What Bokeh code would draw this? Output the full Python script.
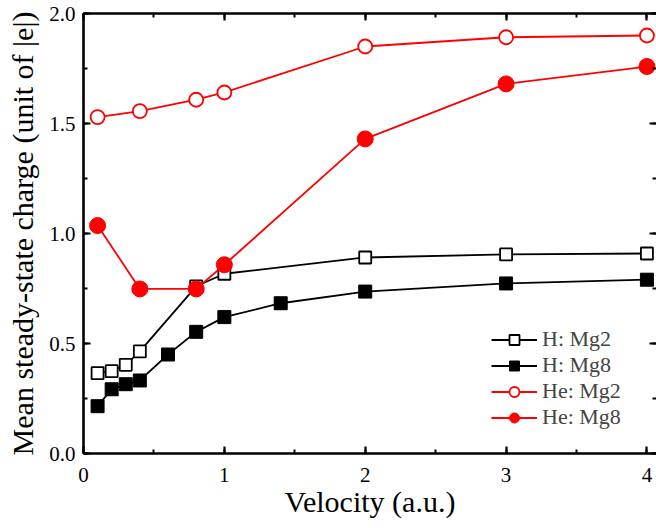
from bokeh.plotting import figure
from bokeh.models import (Range1d, LinearAxis, SingleIntervalTicker,
                          Legend, LegendItem, CustomJSTickFormatter)
from bokeh.embed import file_html
from bokeh.resources import INLINE

# Mean steady-state charge vs projectile velocity
v_h_mg2 = [0.1, 0.2, 0.3, 0.4, 0.8, 1.0, 2.0, 3.0, 4.0]
q_h_mg2 = [0.365, 0.374, 0.403, 0.464, 0.760, 0.817, 0.891, 0.905, 0.909]

v_h_mg8 = [0.1, 0.2, 0.3, 0.4, 0.6, 0.8, 1.0, 1.4, 2.0, 3.0, 4.0]
q_h_mg8 = [0.215, 0.292, 0.315, 0.332, 0.450, 0.553, 0.620, 0.683, 0.736, 0.773, 0.790]

v_he_mg2 = [0.1, 0.4, 0.8, 1.0, 2.0, 3.0, 4.0]
q_he_mg2 = [1.529, 1.556, 1.608, 1.641, 1.850, 1.892, 1.900]

v_he_mg8 = [0.1, 0.4, 0.8, 1.0, 2.0, 3.0, 4.0]
q_he_mg8 = [1.036, 0.748, 0.748, 0.858, 1.430, 1.680, 1.759]

series_labels = ["H: Mg2", "H: Mg8", "He: Mg2", "He: Mg8"]
x_title = "Velocity (a.u.)"
y_title = "Mean steady-state charge (unit of |e|)"

FONT = "Liberation Serif"
RED = "#ff0000"

X_END = 4.068
p = figure(width=656, height=528, output_backend="svg", toolbar_location=None,
           x_range=Range1d(0, X_END), y_range=Range1d(0, 2.0),
           min_border_left=83, min_border_top=13, min_border_bottom=75,
           min_border_right=0)
p.grid.visible = False
p.outline_line_color = None
p.background_fill_color = "white"
p.border_fill_color = "white"

xticker = SingleIntervalTicker(interval=1, num_minor_ticks=2)
yticker = SingleIntervalTicker(interval=0.5, num_minor_ticks=2)


def style_axis(ax, labels=True, line=True):
    ax.axis_line_width = 2.6
    ax.axis_line_color = "black" if line else None
    ax.major_tick_in = 7
    ax.major_tick_out = 0
    ax.minor_tick_in = 4
    ax.minor_tick_out = 0
    ax.major_tick_line_width = 2.2
    ax.minor_tick_line_width = 2.0
    ax.major_tick_line_color = "black"
    ax.minor_tick_line_color = "black"
    if labels:
        ax.major_label_text_font = FONT
        ax.major_label_text_font_size = "21px"
        ax.major_label_text_font_style = "normal"
        ax.major_label_text_color = "black"
        ax.axis_label_text_font = FONT
        ax.axis_label_text_font_size = "30px"
        ax.axis_label_text_font_style = "normal"
        ax.axis_label_text_color = "black"
    else:
        # tick marks only, no tick labels on the mirrored axes
        ax.major_label_text_font_size = "1px"
        ax.major_label_text_color = None
        ax.major_label_standoff = 0


xa = p.xaxis[0]
xa.ticker = xticker
style_axis(xa)
xa.major_label_standoff = 14
xa.axis_label = x_title
xa.axis_label_standoff = 0

ya = p.yaxis[0]
ya.ticker = yticker
style_axis(ya)
ya.major_label_standoff = 8
ya.formatter = CustomJSTickFormatter(code="return tick.toFixed(1);")
ya.axis_label = y_title
ya.axis_label_standoff = 7

top = LinearAxis(ticker=xticker)
style_axis(top, labels=False)
p.add_layout(top, "above")

right = LinearAxis(ticker=yticker)
style_axis(right, labels=False, line=False)
p.add_layout(right, "right")

# data series
l1 = p.line(v_h_mg2, q_h_mg2, line_color="black", line_width=1.8)
s1 = p.scatter(v_h_mg2, q_h_mg2, marker="square", size=12, fill_color="white",
               line_color="black", line_width=1.8)
l2 = p.line(v_h_mg8, q_h_mg8, line_color="black", line_width=1.8)
s2 = p.scatter(v_h_mg8, q_h_mg8, marker="square", size=13, fill_color="black",
               line_color="black", line_width=1)
l3 = p.line(v_he_mg2, q_he_mg2, line_color=RED, line_width=1.8)
s3 = p.scatter(v_he_mg2, q_he_mg2, marker="circle", size=14, fill_color="white",
               line_color=RED, line_width=1.8)
l4 = p.line(v_he_mg8, q_he_mg8, line_color=RED, line_width=1.8)
s4 = p.scatter(v_he_mg8, q_he_mg8, marker="circle", size=16, fill_color=RED,
               line_color=RED, line_width=1)

legend = Legend(items=[LegendItem(label=series_labels[0], renderers=[l1, s1]),
                       LegendItem(label=series_labels[1], renderers=[l2, s2]),
                       LegendItem(label=series_labels[2], renderers=[l3, s3]),
                       LegendItem(label=series_labels[3], renderers=[l4, s4])],
                location=(408, 23), orientation="vertical",
                glyph_width=46, glyph_height=25, label_height=25,
                label_standoff=5, spacing=0, padding=0, margin=0,
                border_line_color=None, background_fill_alpha=0,
                label_text_font=FONT, label_text_font_size="22px",
                label_text_font_style="normal",
                label_text_baseline="middle")
p.add_layout(legend)

open("out.html", "w").write(file_html(p, INLINE))
